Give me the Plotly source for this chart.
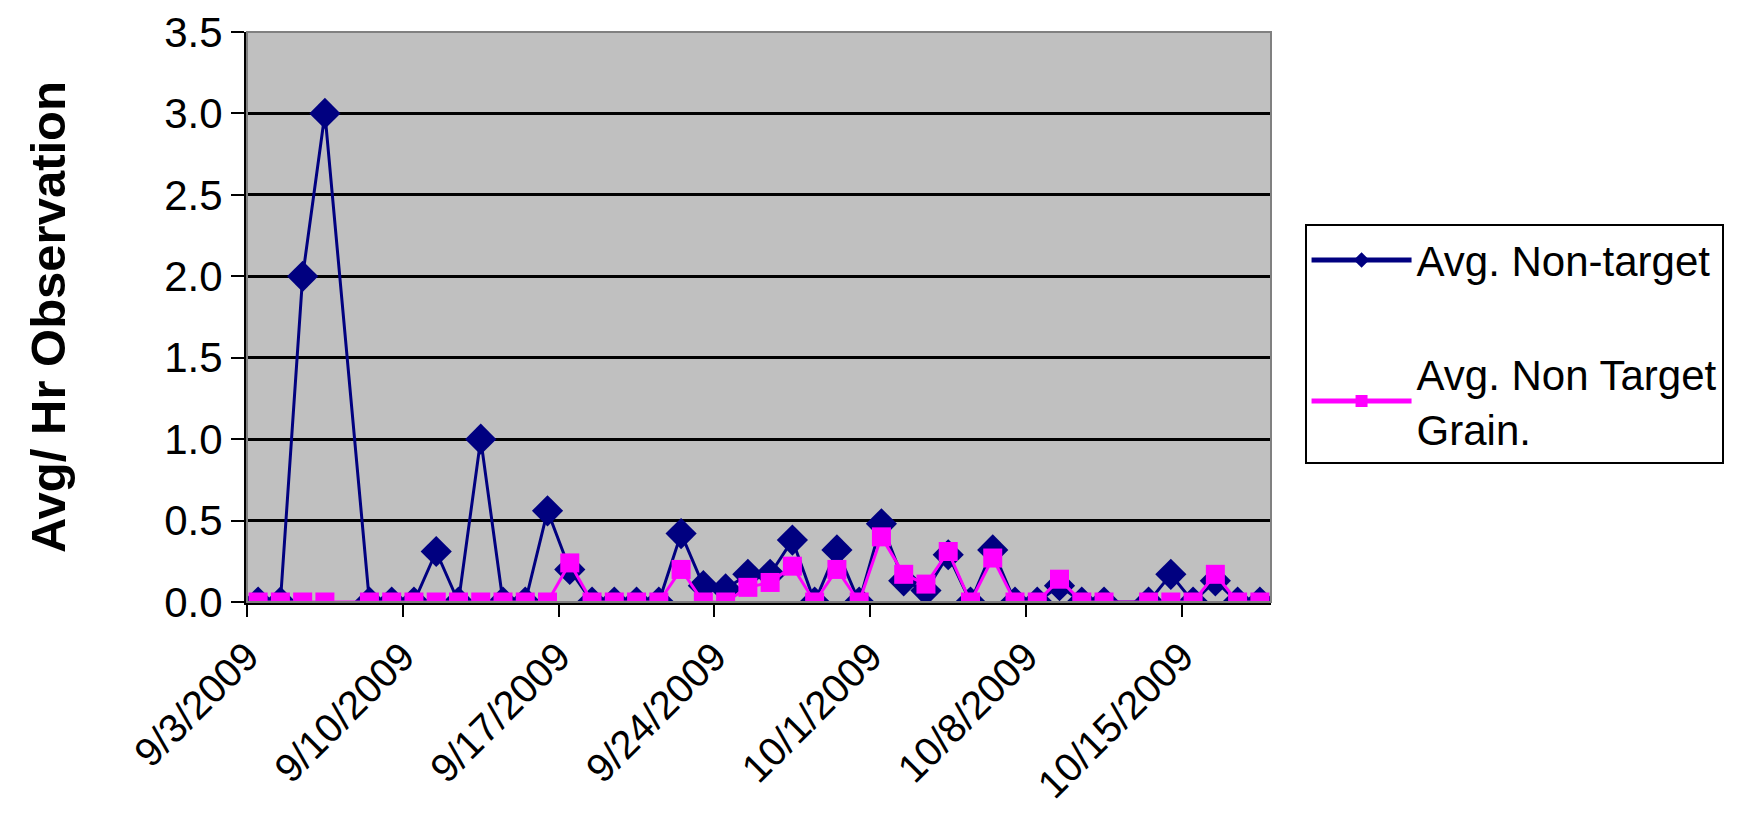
import plotly.graph_objects as go

dates = [
    "2009-09-03", "2009-09-04", "2009-09-05", "2009-09-06", "2009-09-08",
    "2009-09-09", "2009-09-10", "2009-09-11", "2009-09-12", "2009-09-13",
    "2009-09-14", "2009-09-15", "2009-09-16", "2009-09-17", "2009-09-18",
    "2009-09-19", "2009-09-20", "2009-09-21", "2009-09-22", "2009-09-23",
    "2009-09-24", "2009-09-25", "2009-09-26", "2009-09-27", "2009-09-28",
    "2009-09-29", "2009-09-30", "2009-10-01", "2009-10-02", "2009-10-03",
    "2009-10-04", "2009-10-05", "2009-10-06", "2009-10-07", "2009-10-08",
    "2009-10-09", "2009-10-10", "2009-10-11", "2009-10-13", "2009-10-14",
    "2009-10-15", "2009-10-16", "2009-10-17", "2009-10-18",
]

non_target = [
    0, 0, 2.0, 3.0, 0,
    0, 0, 0.31, 0, 1.0,
    0, 0, 0.56, 0.2, 0,
    0, 0, 0, 0.42, 0.1,
    0.08, 0.17, 0.17, 0.38, 0,
    0.32, 0, 0.48, 0.13, 0.07,
    0.29, 0, 0.32, 0, 0,
    0.1, 0, 0, 0, 0.17,
    0, 0.13, 0, 0,
]

non_target_grain = [
    0, 0, 0, 0, 0,
    0, 0, 0, 0, 0,
    0, 0, 0, 0.24, 0,
    0, 0, 0, 0.2, 0,
    0, 0.09, 0.12, 0.22, 0,
    0.2, 0, 0.4, 0.17, 0.11,
    0.31, 0, 0.27, 0, 0,
    0.14, 0, 0, 0, 0,
    0, 0.17, 0, 0,
]

tick_dates = ["2009-09-03", "2009-09-10", "2009-09-17", "2009-09-24",
              "2009-10-01", "2009-10-08", "2009-10-15"]
tick_labels = ["9/3/2009", "9/10/2009", "9/17/2009", "9/24/2009",
               "10/1/2009", "10/8/2009", "10/15/2009"]

series_names = ["Avg. Non-target", "Avg. Non Target<br>Grain."]

FONT = "Liberation Sans, Arial, sans-serif"
DAY_MS = 86400000

fig = go.Figure()
fig.add_trace(go.Scatter(
    x=dates, y=non_target, name=series_names[0],
    mode="lines+markers", legendgroup="a",
    xperiod=DAY_MS, xperiodalignment="middle",
    line=dict(color="#000080", width=3),
    marker=dict(symbol="diamond", size=24, color="#000080"),
))
fig.add_trace(go.Scatter(
    x=dates, y=non_target_grain, name=series_names[1],
    mode="lines+markers", legendgroup="b",
    xperiod=DAY_MS, xperiodalignment="middle",
    line=dict(color="#FF00FF", width=3),
    marker=dict(symbol="square", size=19, color="#FF00FF"),
))

fig.update_layout(
    width=1738, height=838,
    margin=dict(l=239, r=475, t=24, b=244),
    paper_bgcolor="white",
    plot_bgcolor="#C0C0C0",
    font=dict(family=FONT, color="black"),
    showlegend=True,
    legend=dict(
        xref="container", yref="container",
        x=0.746, y=0.742, xanchor="left", yanchor="top",
        bgcolor="white", bordercolor="black", borderwidth=2,
        font=dict(family=FONT, size=42, color="black"),
        itemwidth=100, traceorder="grouped", tracegroupgap=56,
        itemsizing="constant",
    ),
    shapes=[dict(type="rect", xref="paper", yref="paper", x0=0, y0=0, x1=1, y1=1,
                 line=dict(color="#808080", width=2), layer="above")],
)

fig.update_xaxes(
    type="date",
    range=["2009-09-03", "2009-10-19"],
    tickmode="array", tickvals=tick_dates, ticktext=tick_labels,
    tickangle=-45,
    tickfont=dict(family=FONT, size=40, color="black"),
    ticks="outside", ticklen=12, tickwidth=2, tickcolor="black",
    showgrid=False, zeroline=False,
    showline=True, linecolor="black", linewidth=3,
)

fig.update_yaxes(
    range=[0, 3.5], dtick=0.5, tick0=0, tickformat=".1f",
    tickfont=dict(family=FONT, size=42, color="black"),
    ticklabeloverflow="allow",
    ticks="outside", ticklen=13, tickwidth=2, tickcolor="black",
    showgrid=True, gridcolor="black", gridwidth=3,
    zeroline=False,
    showline=True, linecolor="black", linewidth=3,
    title=dict(text="<b>Avg/ Hr Observation</b>",
               font=dict(family=FONT, size=49, color="black"),
               standoff=84),
    automargin=False,
)

fig.write_html("out.html")
